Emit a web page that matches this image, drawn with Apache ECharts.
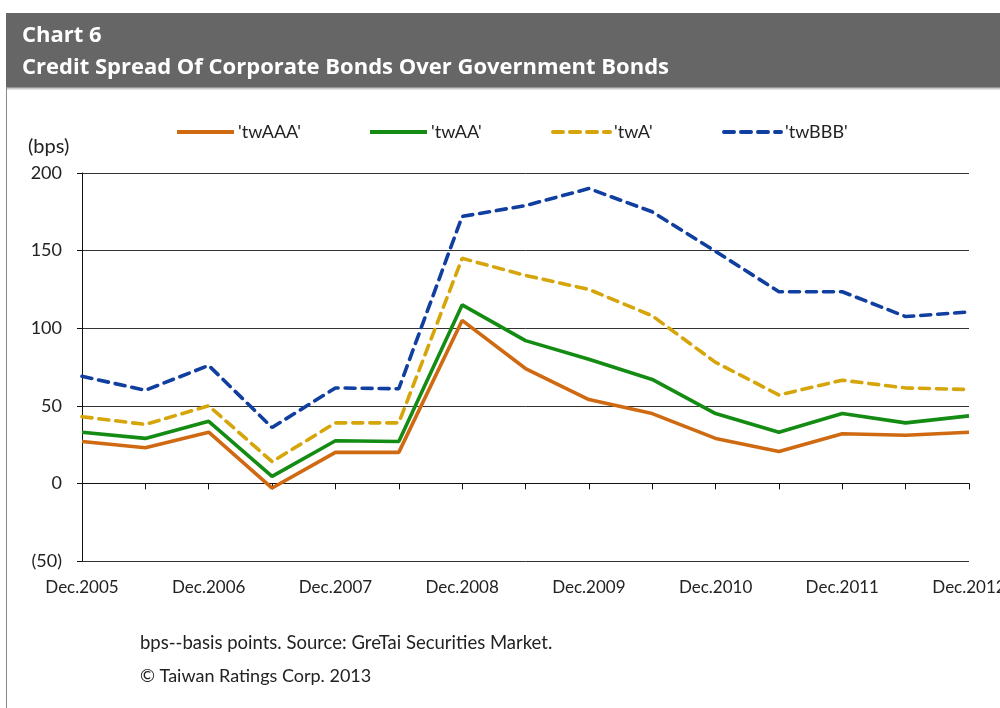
<!DOCTYPE html>
<html>
<head>
<meta charset="utf-8">
<script src="https://cdn.jsdelivr.net/npm/echarts@6/dist/echarts.min.js"></script>
<style>
  html, body { margin: 0; padding: 0; background: #fff; }
  #chart { width: 1000px; height: 708px; }
</style>
</head>
<body>
<div id="chart"></div>
<script>
const categories = ['Dec.2005','Jun.2006','Dec.2006','Jun.2007','Dec.2007','Jun.2008','Dec.2008','Jun.2009','Dec.2009','Jun.2010','Dec.2010','Jun.2011','Dec.2011','Jun.2012','Dec.2012'];
const twAAA = [27, 23, 33, -3, 20, 20, 105, 74, 54, 45, 29, 20.5, 32, 31, 33];
const twAA  = [33, 29, 40, 4.5, 27.5, 27, 115, 92, 80, 67, 45, 33, 45, 39, 43.5];
const twA   = [43, 38, 50, 14, 39, 39, 145, 134, 125, 108, 78, 57, 66.5, 61.5, 60.5];
const twBBB = [69, 60, 76, 36, 61.5, 61, 172, 179, 190, 175, 149.5, 123.5, 123.5, 107.5, 110.5];
const seriesNames = ["'twAAA'", "'twAA'", "'twA'", "'twBBB'"];
const yTicks = { min: -50, max: 200, interval: 50 };

const FONT = 'Lato';
const chart = echarts.init(document.getElementById('chart'), null, { renderer: 'canvas' });

function mkSeries(name, data, color, dashed) {
  return {
    name: name, type: 'line', data: data, xAxisIndex: 0, yAxisIndex: 0,
    symbol: 'none', smooth: false, animation: false, z: 3,
    lineStyle: dashed
      ? { color: color, width: 3.6, type: [10, 7], cap: 'round' }
      : { color: color, width: 3.6 },
    itemStyle: { color: color }
  };
}

const legendLefts = [170, 363, 546, 717];
const legends = seriesNames.map(function (n, i) {
  return {
    left: legendLefts[i], top: 118,
    itemWidth: 57, itemHeight: 14, itemGap: 0,
    itemStyle: { opacity: 0 },
    lineStyle: { width: 4 },
    textStyle: { fontSize: 18, color: '#222', fontFamily: FONT, padding: [0, 0, 0, -1] },
    selectedMode: false,
    data: [n]
  };
});

chart.setOption({
  animation: false,
  backgroundColor: '#ffffff',
  textStyle: { fontFamily: FONT },
  graphic: [
    { type: 'rect', shape: { x: 6, y: 13, width: 994, height: 75 }, style: { fill: '#666666' }, silent: true },
    { type: 'line', shape: { x1: 6, y1: 88.5, x2: 1000, y2: 88.5 }, style: { stroke: '#c8c8c8', lineWidth: 2 }, silent: true },
    { type: 'line', shape: { x1: 6.5, y1: 88, x2: 6.5, y2: 708 }, style: { stroke: '#8a8a8a', lineWidth: 1 }, silent: true },
    { type: 'text', left: 22, top: 25, style: { text: 'Chart 6', fill: '#ffffff', font: 'bold 22px "Open Sans"' } },
    { type: 'text', left: 22, top: 57, style: { text: 'Credit Spread Of Corporate Bonds Over Government Bonds', fill: '#ffffff', font: 'bold 22px "Open Sans"' } },
    { type: 'text', left: 28, top: 137, style: { text: '(bps)', fill: '#222222', font: '20px ' + FONT } },
    { type: 'text', left: 140, top: 634, style: { text: 'bps--basis points. Source: GreTai Securities Market.', fill: '#222222', font: '18.5px ' + FONT } },
    { type: 'text', left: 140, top: 667, style: { text: '\u00A9 Taiwan Ratings Corp. 2013', fill: '#222222', font: '18px ' + FONT } }
  ],
  legend: legends,
  grid: { left: 82, right: 31, top: 173, bottom: 147, containLabel: false, outerBoundsMode: 'none' },
  xAxis: [
    {
      type: 'category', data: categories, boundaryGap: false, position: 'bottom',
      axisLine: { show: false, onZero: false },
      axisTick: { show: false },
      axisLabel: { interval: 1, margin: 18, fontSize: 17, color: '#222', fontFamily: FONT, hideOverlap: false },
      splitLine: { show: false }
    },
    {
      type: 'category', data: categories, boundaryGap: false, position: 'top',
      axisLine: { show: true, onZero: true, lineStyle: { color: '#111', width: 1 } },
      axisTick: { show: true, inside: true, interval: 0, length: 6, lineStyle: { color: '#111', width: 1 } },
      axisLabel: { show: false },
      splitLine: { show: false }
    }
  ],
  yAxis: {
    type: 'value', min: yTicks.min, max: yTicks.max, interval: yTicks.interval,
    axisLine: { show: true, lineStyle: { color: '#111', width: 1 } },
    axisTick: { show: true, length: 5, lineStyle: { color: '#111', width: 1 } },
    axisLabel: {
      margin: 20, fontSize: 18, color: '#222', fontFamily: FONT,
      formatter: function (v) { return v < 0 ? '(' + Math.abs(v) + ')' : String(v); }
    },
    splitLine: { show: true, lineStyle: { color: '#333', width: 1 } }
  },
  series: [
    mkSeries(seriesNames[0], twAAA, '#CF6A12', false),
    mkSeries(seriesNames[1], twAA, '#148C14', false),
    mkSeries(seriesNames[2], twA, '#D6A50A', true),
    mkSeries(seriesNames[3], twBBB, '#103FA0', true)
  ]
});
</script>
</body>
</html>
